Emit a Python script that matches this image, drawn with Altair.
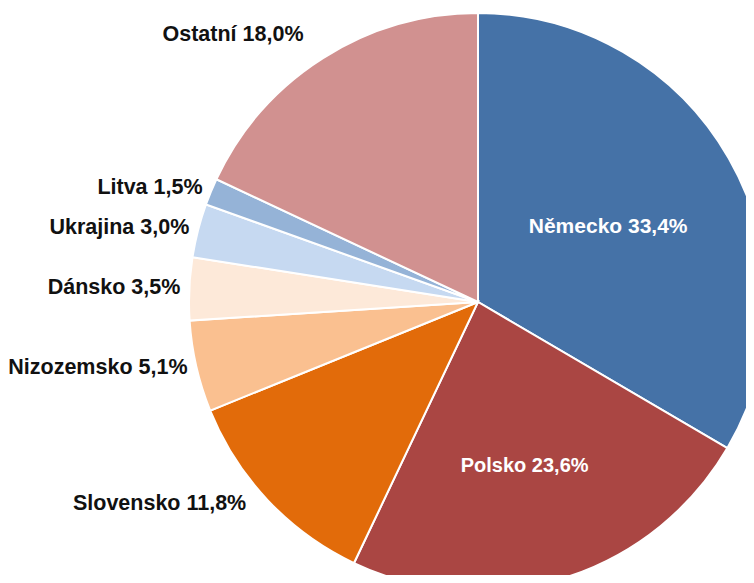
import altair as alt
import pandas as pd

countries = ["Německo", "Polsko", "Slovensko", "Nizozemsko", "Dánsko", "Ukrajina", "Litva", "Ostatní"]
shares = [33.4, 23.6, 11.8, 5.1, 3.5, 3.0, 1.5, 18.0]
labels = ["Německo 33,4%", "Polsko 23,6%", "Slovensko 11,8%", "Nizozemsko 5,1%",
          "Dánsko 3,5%", "Ukrajina 3,0%", "Litva 1,5%", "Ostatní 18,0%"]
colors = ["#4572A7", "#AA4643", "#E26B0A", "#FAC090", "#FDE9D9", "#C6D9F1", "#95B3D7", "#D19190"]
outside = ["Nizozemsko", "Dánsko", "Ukrajina", "Litva"]

df = pd.DataFrame({
    "country": countries,
    "share": shares,
    "label": labels,
    "order": list(range(len(countries))),
})
total = float(sum(shares))

CX, CY, R = 470, 294, 289
FONT = "Liberation Sans"

theta_scale = alt.Scale(domain=[0, total], range=[0, 6.283185307179586])

base = alt.Chart(df).transform_window(
    cum="sum(share)", sort=[alt.SortField("order")], frame=[None, 0]
).transform_calculate(
    start="datum.cum - datum.share",
    mid="datum.cum - datum.share / 2",
).encode(
    x=alt.value(CX),
    y=alt.value(CY),
)

pie = base.mark_arc(radius=R, stroke="white", strokeWidth=2).encode(
    theta=alt.Theta("start:Q", scale=theta_scale),
    theta2="cum:Q",
    color=alt.Color("country:N", scale=alt.Scale(domain=countries, range=colors), legend=None),
)

def text_layer(names, radius, color, align, fs, dx=0, dy=0):
    return base.mark_text(
        radius=radius, font=FONT, fontWeight="bold", fontSize=fs,
        color=color, align=align, baseline="middle", dx=dx, dy=dy
    ).encode(
        theta=alt.Theta("mid:Q", scale=theta_scale),
        text="label:N",
    ).transform_filter(alt.FieldOneOfPredicate(field="country", oneOf=names))

chart = alt.layer(
    pie,
    text_layer(["Německo"], 150, "white", "center", 21),
    text_layer(["Polsko"], 172, "white", "center", 20, dx=-4),
    text_layer(outside, 298, "#111111", "right", 21.5),
    text_layer(["Slovensko"], 298, "#111111", "right", 21.5, dx=-15, dy=-3),
    text_layer(["Ostatní"], 316, "#111111", "right", 21.5, dx=-5),
).properties(
    width=738, height=567,
    autosize=alt.AutoSizeParams(type="none"),
    padding=0,
).configure_view(stroke=None)

chart.save("out.html", embed_options={"renderer": "svg", "actions": False})
